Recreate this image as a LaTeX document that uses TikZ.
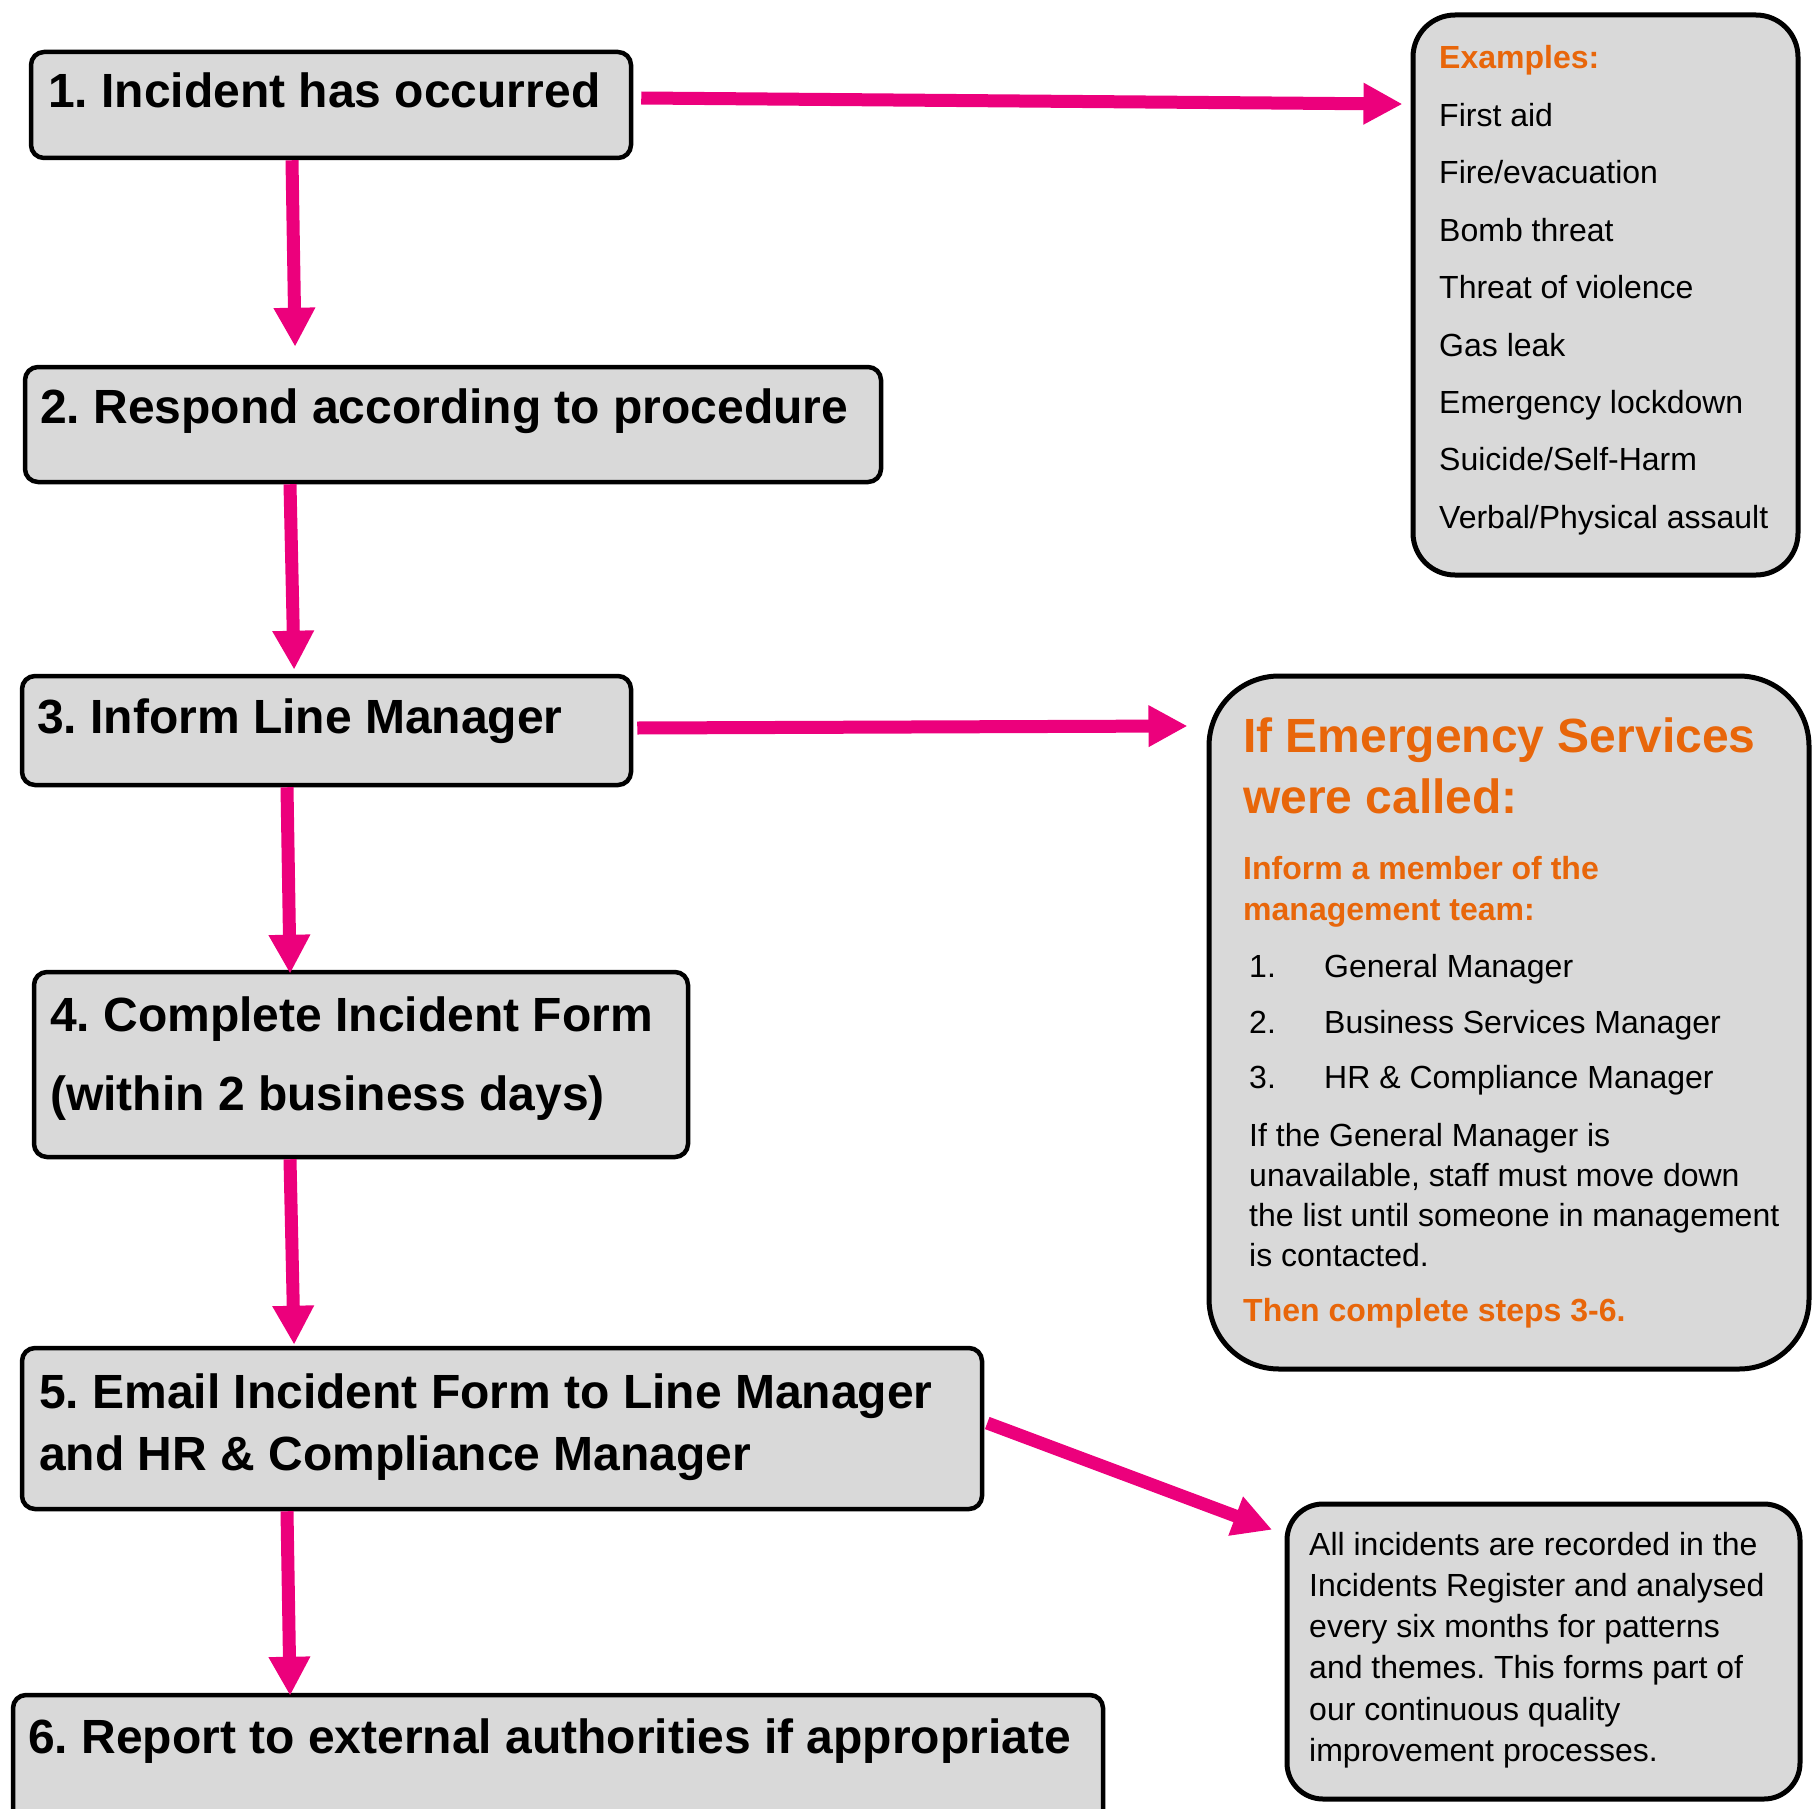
\documentclass[tikz,border=0pt]{standalone}
\usepackage{fontspec}
\setmainfont{Liberation Sans}
\usetikzlibrary{arrows.meta,calc}
\definecolor{boxgray}{RGB}{217,217,217}
\definecolor{arrowpink}{RGB}{236,0,124}
\definecolor{titleorange}{RGB}{232,102,10}
\newcommand\stepfont{\fontsize{48}{60}\selectfont\bfseries}
\newcommand\notefont{\fontsize{32}{40}\selectfont}
\frenchspacing
\tikzset{
  stepbox/.style={draw=black, line width=4.5pt, fill=boxgray, rounded corners=13pt,
    rectangle, inner sep=0pt},
  notebox/.style={draw=black, line width=5pt, fill=boxgray, rectangle, inner sep=0pt},
  steptext/.style={anchor=base west, inner sep=0pt, font=\stepfont, text=black},
  notetext/.style={anchor=base west, inner sep=0pt, font=\notefont, text=black},
  orangebig/.style={anchor=base west, inner sep=0pt, font=\stepfont, text=titleorange},
  orangesmall/.style={anchor=base west, inner sep=0pt, font=\notefont\bfseries, text=titleorange},
  flow/.style={draw=arrowpink, line width=13pt, -{Triangle[length=39pt,width=39pt]},
    shorten >=-5pt}
}
\begin{document}
\begin{tikzpicture}[x=1pt,y=-1pt]
\useasboundingbox (0,0) rectangle (1813,1809);

% step boxes
\node[stepbox, minimum width=600pt, minimum height=106pt] (b1) at (331,105) {};
\node[stepbox, minimum width=856pt, minimum height=115pt] (b2) at (453,424.5) {};
\node[stepbox, minimum width=609pt, minimum height=109pt] (b3) at (326.5,730.5) {};
\node[stepbox, minimum width=654pt, minimum height=185pt] (b4) at (361,1064.5) {};
\node[stepbox, minimum width=960pt, minimum height=161pt] (b5) at (502,1428.5) {};
\node[stepbox, minimum width=1090pt, minimum height=170pt] (b6) at (558,1780) {};

% note boxes
\node[notebox, rounded corners=42pt, minimum width=385pt, minimum height=560pt] (ex) at (1605.5,295) {};
\node[notebox, rounded corners=70pt, minimum width=600pt, minimum height=693pt] (em) at (1509,1022.5) {};
\node[notebox, rounded corners=36pt, minimum width=513pt, minimum height=295pt] (inc) at (1543.5,1651.5) {};

% step texts
\node[steptext] (t1) at (48,108) {1. Incident has occurred};
\node[steptext] (t2) at (40,423) {2. Respond according to procedure};
\node[steptext] (t3) at (37,733) {3. Inform Line Manager};
\node[steptext] (t4a) at (50,1031) {4. Complete Incident Form};
\node[steptext] (t4b) at (50,1110) {(within 2 business days)};
\node[steptext] (t5a) at (39,1408) {5. Email Incident Form to Line Manager};
\node[steptext] (t5b) at (39,1470) {and HR \& Compliance Manager};
\node[steptext] (t6) at (28,1753) {6. Report to external authorities if appropriate};

% examples
\node[orangesmall] (exh) at (1439,69) {Examples:};
\foreach \t [count=\i] in {First aid, Fire/evacuation, Bomb threat, Threat of violence,
  Gas leak, Emergency lockdown, Suicide/Self-Harm, Verbal/Physical assault}
  \node[notetext] (ex\i) at (1439,{69+57.4*\i}) {\t};

% emergency services
\node[orangebig] (emh1) at (1243,752) {If Emergency Services};
\node[orangebig] (emh2) at (1243,813) {were called:};
\node[orangesmall] (ems1) at (1243,879) {Inform a member of the};
\node[orangesmall] (ems2) at (1243,920) {management team:};
\node[notetext] (n1) at (1249,977) {1.};
\node[notetext] (m1) at (1324,977) {General Manager};
\node[notetext] (n2) at (1249,1033) {2.};
\node[notetext] (m2) at (1324,1033) {Business Services Manager};
\node[notetext] (n3) at (1249,1088) {3.};
\node[notetext] (m3) at (1324,1088) {HR \& Compliance Manager};
\node[notetext] (p1) at (1249,1146) {If the General Manager is};
\node[notetext] (p2) at (1249,1186) {unavailable, staff must move down};
\node[notetext] (p3) at (1249,1226) {the list until someone in management};
\node[notetext] (p4) at (1249,1266) {is contacted.};
\node[orangesmall] (emt) at (1243,1321) {Then complete steps 3-6.};

% incidents register
\node[notetext] (i1) at (1309,1555) {All incidents are recorded in the};
\node[notetext] (i2) at (1309,1596) {Incidents Register and analysed};
\node[notetext] (i3) at (1309,1637) {every six months for patterns};
\node[notetext] (i4) at (1309,1678) {and themes. This forms part of};
\node[notetext] (i5) at (1309,1720) {our continuous quality};
\node[notetext] (i6) at (1309,1761) {improvement processes.};

% connectors
\draw[flow] ($(b1.south)+(-39,0)$) -- ($(b2.north)+(-158,-23)$);
\draw[flow] ($(b2.south)+(-163,0)$) -- ($(b3.north)+(-32.5,-9)$);
\draw[flow] ($(b3.south)+(-39.5,0)$) -- ($(b4.north)+(-71,-1)$);
\draw[flow] ($(b4.south)+(-71,0)$) -- ($(b5.north)+(-208,-6)$);
\draw[flow] ($(b5.south)+(-215,0)$) -- ($(b6.north)+(-268,-2)$);
\draw[flow] ($(b1.east)+(8,-7)$) -- ($(ex.west)+(-13,-191)$);
\draw[flow] ($(b3.east)+(4,-2.5)$) -- ($(em.west)+(-24,-296.5)$);
\draw[flow] ($(b5.east)+(3,-5.5)$) -- ($(inc.west)+(-17,-123.5)$);
\end{tikzpicture}
\end{document}
